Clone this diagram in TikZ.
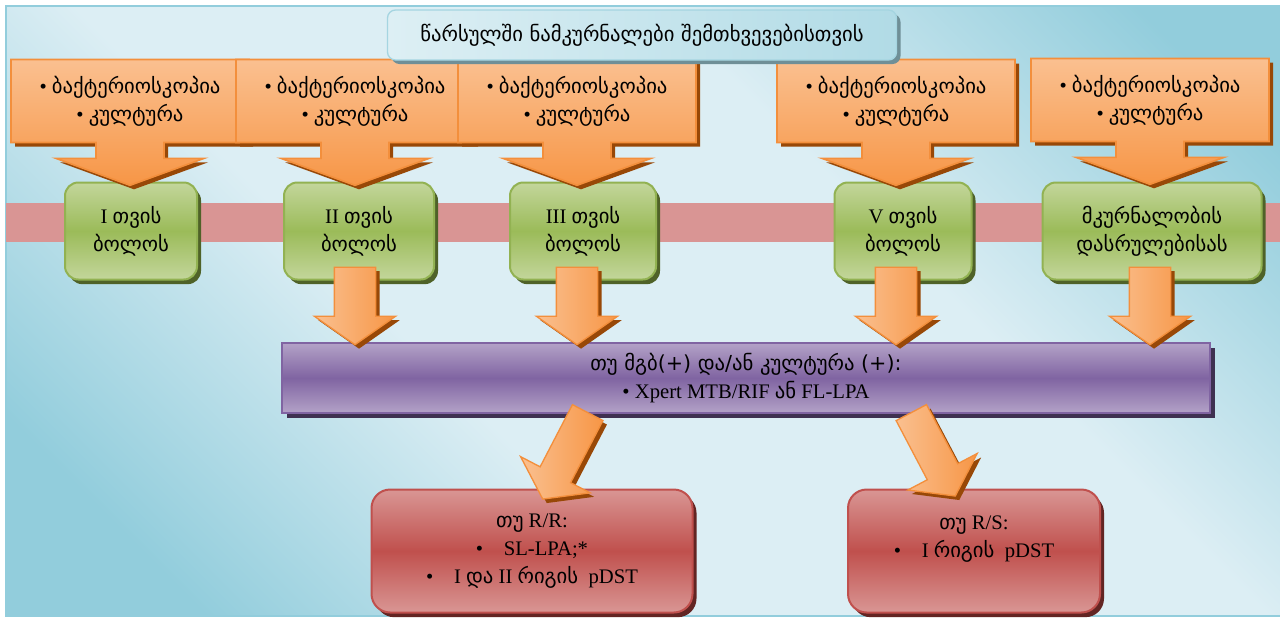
\documentclass[tikz,border=0pt]{standalone}
\usepackage{fontspec}
\setmainfont{Liberation Serif}
\newfontfamily\geo{DejaVu Sans}
\usetikzlibrary{shapes.arrows,shadows,calc}

\definecolor{bglight}{HTML}{DCEEF4}
\definecolor{bgdark}{HTML}{92CDDC}
\definecolor{band}{HTML}{D99594}
\definecolor{orlight}{HTML}{FAC090}
\definecolor{ordark}{HTML}{F79646}
\definecolor{orline}{HTML}{F38F3C}
\definecolor{orshadow}{HTML}{984807}
\definecolor{grlight}{HTML}{C3D69B}
\definecolor{grdark}{HTML}{9BBB59}
\definecolor{grline}{HTML}{92B252}
\definecolor{grshadow}{HTML}{4F6228}
\definecolor{pulight}{HTML}{B3A2C7}
\definecolor{pudark}{HTML}{8064A2}
\definecolor{pushadow}{HTML}{3F3151}
\definecolor{relight}{HTML}{D99694}
\definecolor{redark}{HTML}{C0504D}
\definecolor{reshadow}{HTML}{632523}
\definecolor{tilight}{HTML}{DDEFF4}
\definecolor{tidark}{HTML}{B1DBE6}
\definecolor{tiline}{HTML}{A5D5E1}
\definecolor{tishadow}{HTML}{6F8F97}

\pgfdeclarehorizontalshading{backdrop}{100bp}{color(0bp)=(bgdark); color(22bp)=(bgdark);
  color(40bp)=(bglight); color(62bp)=(bglight); color(80bp)=(bgdark); color(100bp)=(bgdark)}

\def\px{0.75pt}

\tikzset{
  every node/.style={align=center, font=\fontsize{15.5}{21}\selectfont},
  titlebox/.style={draw=tiline, line width=1pt, rounded corners=6pt, left color=tilight, right color=tidark,
    minimum width=509*\px, minimum height=50*\px,
    drop shadow={shadow xshift=3pt, shadow yshift=-3pt, fill=tishadow, opacity=1}},
  callout/.style={arrow box, arrow box arrows={south:31.5pt from border}, arrow box shaft width=51pt,
    arrow box head extend=30pt, arrow box tip angle=140, minimum width=238*\px, minimum height=83*\px,
    inner sep=0, draw=orline, line width=1.2pt, top color=orlight, bottom color=ordark,
    drop shadow={shadow xshift=3pt, shadow yshift=-3pt, fill=orshadow, opacity=1}},
  monthbox/.style={draw=grline, line width=1.5pt, rounded corners=10pt, minimum height=97*\px,
    top color=grlight, bottom color=grlight, middle color=grdark,
    drop shadow={shadow xshift=3pt, shadow yshift=-3.5pt, fill=grshadow, opacity=1}},
  barbox/.style={draw=pudark, line width=1.5pt, top color=pulight, bottom color=pulight, middle color=pudark,
    drop shadow={shadow xshift=4pt, shadow yshift=-4pt, fill=pushadow, opacity=1}},
  resultbox/.style={draw=redark, line width=1.5pt, rounded corners=14pt, minimum height=123*\px,
    top color=relight, bottom color=relight, middle color=redark,
    drop shadow={shadow xshift=3pt, shadow yshift=-3.5pt, fill=reshadow, opacity=1}},
  fatarrow/.style={single arrow, sloped, allow upside down, pos=0, anchor=tail,
    draw=orline, line width=1pt, inner sep=20*\px,
    minimum width=80*\px, single arrow head extend=20*\px, single arrow tip angle=110,
    left color=orlight, right color=ordark,
    drop shadow={shadow xshift=3pt, shadow yshift=-3pt, fill=orshadow, opacity=1}}
}

\newcommand\blockarrow[3][]{%
  \path let \p1=(#2), \p2=(#3), \n1={veclen(\x2-\x1,\y2-\y1)} in
    (\p1) -- node[fatarrow, #1, minimum height=\n1] {} (\p2);}

\begin{document}
\begin{tikzpicture}[x=0.75pt, y=-0.75pt]
\useasboundingbox (0,0) rectangle (1280,619);

% background and band
\shade[shading=backdrop, shading angle=45] (6,6) rectangle (1284,616);
\draw[bgdark, line width=1.5pt] (6,6) rectangle (1284,616);
\fill[band] (6,203) rectangle (1280,242);

% months
\node[monthbox, minimum width=132*\px] (m1) at (131,231) {I {\geo თვის}\\{\geo ბოლოს}};
\node[monthbox, minimum width=150*\px] (m2) at (359,231) {II {\geo თვის}\\{\geo ბოლოს}};
\node[monthbox, minimum width=146*\px] (m3) at (583,231) {III {\geo თვის}\\{\geo ბოლოს}};
\node[monthbox, minimum width=137*\px] (m4) at (903,231) {V {\geo თვის}\\{\geo ბოლოს}};
\node[monthbox, minimum width=219*\px] (m5) at (1152,231) {{\geo მკურნალობის}\\{\geo დასრულებისას}};

% tests
\node[callout] (c1) at (130,101) {\textbullet\ {\geo ბაქტერიოსკოპია}\\\textbullet\ {\geo კულტურა}};
\node[callout] (c2) at (355,101) {\textbullet\ {\geo ბაქტერიოსკოპია}\\\textbullet\ {\geo კულტურა}};
\node[callout] (c3) at (577,101) {\textbullet\ {\geo ბაქტერიოსკოპია}\\\textbullet\ {\geo კულტურა}};
\node[callout] (c4) at (896,101) {\textbullet\ {\geo ბაქტერიოსკოპია}\\\textbullet\ {\geo კულტურა}};
\node[callout] (c5) at (1150,100) {\textbullet\ {\geo ბაქტერიოსკოპია}\\\textbullet\ {\geo კულტურა}};

\node[titlebox] (title) at (642,35) {\geo წარსულში ნამკურნალები შემთხვევებისთვის};

% positive result
\node[barbox, minimum width=928*\px, minimum height=70*\px] (bar) at (746,378)
  {{\geo თუ მგბ(+) და/ან კულტურა (+):}\\\textbullet\ Xpert MTB/RIF {\geo ან} FL-LPA};

% resistance
\node[resultbox, minimum width=321*\px] (rr) at (532,551)
  {{\geo თუ} R/R:\\\textbullet\quad SL-LPA;*\\\textbullet\quad I {\geo და} II {\geo რიგის}\ \ pDST};
\node[resultbox, minimum width=252*\px] (rs) at (974,551)
  {{\geo თუ} R/S:\\\textbullet\quad I {\geo რიგის}\ \ pDST\\\mbox{}};

\blockarrow{$(c2.south |- m2.south)+(0,-14)$}{$(c2.south |- bar.north)+(0,2)$}
\blockarrow{$(c3.south |- m3.south)+(0,-14)$}{$(c3.south |- bar.north)+(0,2)$}
\blockarrow{$(c4.south |- m4.south)+(0,-14)$}{$(c4.south |- bar.north)+(0,2)$}
\blockarrow{$(c5.south |- m5.south)+(0,-14)$}{$(c5.south |- bar.north)+(0,2)$}

\blockarrow[inner sep=16.5*\px, minimum width=78*\px, single arrow head extend=22*\px]{$(bar.south)+(-158,-2)$}{$(rr.north)+(11,10)$}
\blockarrow[inner sep=16.5*\px, minimum width=78*\px, single arrow head extend=22*\px]{$(bar.south)+(165,-2)$}{$(rs.north)+(-19,7)$}

\end{tikzpicture}
\end{document}
